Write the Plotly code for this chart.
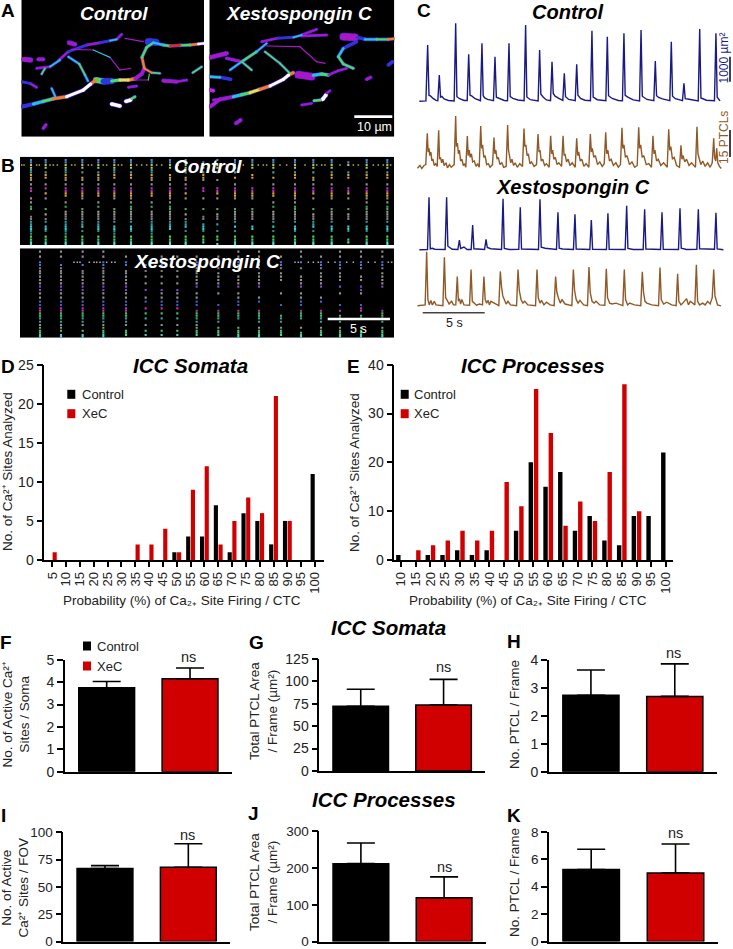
import plotly.graph_objects as go

W, H = 733, 949
BLACK, RED, NAVY, BROWN = "#000000", "#d00000", "#1a1a85", "#8f5a28"
FONT = "Liberation Sans"

# ---------- panels D, E ----------
D_CATS = ["5","10","15","20","25","30","35","40","45","50","55","60","65","70","75","80","85","90","95","100"]
D_CONTROL = [0,0,0,0,0,0,0,0,0,1,3,3,7,1,6,5,2,5,0,11]
D_XEC = [1,0,0,0,0,0,2,2,4,1,9,12,2,5,8,6,21,5,0,0]
E_CATS = ["10","15","20","25","30","35","40","45","50","55","60","65","70","75","80","85","90","95","100"]
E_CONTROL = [1,0,1,1,2,1,2,0,6,20,15,18,6,9,4,3,9,9,22]
E_XEC = [0,2,3,4,6,4,6,16,11,35,26,7,12,8,18,36,10,0,0]

# ---------- panels F-K: mean, upper error bound ----------
GROUPS = ["Control", "XeC"]
F_MEAN, F_TOP = [3.75, 4.15], [4.03, 4.63]
G_MEAN, G_TOP = [72, 73.5], [91, 102]
H_MEAN, H_TOP = [2.73, 2.69], [3.63, 3.85]
I_MEAN, I_TOP = [66.8, 68], [69.5, 89.5]
J_MEAN, J_TOP = [212, 119], [268, 176]
K_MEAN, K_TOP = [5.26, 5.0], [6.74, 7.12]

# ---------- panel C traces: (seconds, value) ----------
C_BLUE_CTRL = [(0.35,20),(0.88,30),(1.02,2267),(1.13,250),(1.25,230),(1.45,130),(1.7,50),(1.84,40),(1.96,1067),(2.06,180),(2.17,210),(2.35,110),(2.7,50),(3.16,30),(3.28,3133),(3.38,200),(3.6,120),(3.95,50),(4.21,50),
 (4.33,1893),(4.44,260),(4.6,220),(4.85,120),(5.1,60),(5.28,40),(5.40,2333),(5.5,240),(5.62,150),(5.85,90),(6.33,40),(6.45,1800),(6.56,180),(6.8,130),(7.2,50),(7.46,40),(7.58,2333),(7.68,200),(7.9,130),(8.3,70),(8.8,40),
 (8.92,3067),(9.02,190),(9.3,80),(9.93,30),(10.05,2067),(10.15,300),(10.35,180),(10.6,70),(10.93,40),(11.05,1600),(11.15,330),(11.3,220),(11.6,130),(11.92,50),(12.04,1133),(12.14,200),(12.4,90),(12.92,40),(13.04,1493),(13.14,260),(13.35,130),(13.7,60),(14.15,40),
 (14.27,2840),(14.37,180),(14.7,80),(15.39,40),(15.51,2600),(15.61,240),(15.9,130),(16.4,50),(16.73,40),(16.85,2733),(16.95,250),(17.2,170),(17.6,70),(18.11,30),(18.23,2867),(18.33,220),(18.7,90),(19.26,40),(19.38,1627),(19.48,240),(19.65,170),(19.95,110),(20.55,40),
 (20.67,2400),(20.77,220),(21.0,120),(21.57,40),(21.69,733),(21.79,120),(22.1,100),(22.4,60),(22.84,30),(22.96,2907),(23.06,150),(23.5,60),(24.15,40),(24.27,2733),(24.37,180),(24.6,30)]
C_BROWN_CTRL = [(0.2,1),(0.4,2.5),(0.55,0.8),(0.72,2.5),(0.87,3),(0.99,20.4),(1.06,10),(1.13,12),(1.2,8),(1.28,10),(1.36,5),(1.45,6),(1.55,2.5),(1.67,3.5),(1.79,2),(1.91,22),(1.98,6),(2.06,7),(2.15,4),(2.24,6),(2.35,2.5),(2.5,4),(2.62,1.2),(2.78,3),(2.92,1.5),(3.16,3),
 (3.28,30),(3.34,13),(3.42,15),(3.5,9),(3.58,11),(3.68,5),(3.78,6),(3.9,2.5),(4.0,3.5),(4.1,1.5),(4.22,18.9),(4.29,8),(4.37,11),(4.45,7),(4.55,9),(4.65,4.5),(4.78,5),(4.92,2),(5.05,3.5),(5.18,1.5),(5.30,24.4),(5.37,12),(5.45,14),(5.55,7),(5.65,8),(5.78,3),(5.92,3.5),(6.05,1.5),(6.25,3),
 (6.37,18),(6.44,9),(6.52,11),(6.62,6),(6.72,7),(6.85,3),(7.0,4),(7.15,1.5),(7.35,2),(7.47,25),(7.54,11),(7.62,8),(7.72,4),(7.82,6),(7.95,2.5),(8.08,4),(8.25,1.5),(8.45,3.5),(8.67,2),(8.79,23),(8.86,13),(8.94,14),(9.04,8),(9.14,9),(9.27,3.5),(9.4,4.5),(9.6,2),(9.8,3),
 (9.92,20),(10.0,10),(10.08,11),(10.18,5),(10.3,6),(10.45,2.5),(10.6,3.5),(10.82,1.5),(10.94,19),(11.02,9),(11.1,11),(11.2,6),(11.32,7),(11.46,3),(11.6,4),(11.82,2),(11.94,19),(12.02,8),(12.1,9),(12.22,4.5),(12.35,6),(12.5,2.5),(12.68,4),(12.92,1.5),
 (13.04,17.6),(13.12,8),(13.2,10),(13.32,5),(13.45,6),(13.62,2),(13.8,3.5),(14.02,1.5),(14.14,20),(14.22,10),(14.3,12),(14.42,7),(14.55,8),(14.72,3),(14.9,4.5),(15.1,2),(15.26,3.5),(15.38,21),(15.46,9),(15.55,11),(15.68,5),(15.82,6),(16.0,2.5),(16.2,4),(16.4,1.5),(16.57,3),
 (16.69,23.5),(16.76,12),(16.85,14),(16.97,7),(17.1,8),(17.3,3),(17.5,4.5),(17.72,1.5),(17.92,2.5),(18.04,23.7),(18.11,12),(18.2,14),(18.32,7),(18.45,8),(18.65,3),(18.85,3.5),(19.07,1.5),(19.19,19),(19.27,9),(19.35,11),(19.48,5),(19.62,6),(19.82,2.5),(20.05,4),(20.34,1.5),
 (20.46,22.6),(20.54,11),(20.63,13),(20.76,6),(20.9,7),(21.1,2.5),(21.33,1.5),(21.45,13.7),(21.53,6),(21.62,8),(21.75,4.5),(21.9,6),(22.1,2.5),(22.3,4),(22.62,1.5),(22.74,24),(22.82,9),(22.92,6),(23.05,3),(23.2,5),(23.4,2),(23.6,4),(23.8,1.5),(23.97,4),
 (24.09,17.6),(24.16,7),(24.25,5),(24.33,12),(24.42,4),(24.55,2),(24.7,0.8)]
C_BLUE_XEC = [(0.35,10),(1.01,20),(1.13,2107),(1.23,50),(1.4,70),(1.6,30),(2.43,20),(2.55,2107),(2.65,150),(2.8,110),(3.0,30),(3.46,20),(3.58,400),(3.68,60),(3.95,120),(4.2,20),(4.53,20),(4.65,1000),(4.75,50),(5.61,20),
 (5.73,427),(5.83,100),(6.1,50),(6.98,20),(7.10,2053),(7.2,60),(7.6,20),(8.37,30),(8.49,1707),(8.59,40),(9.96,20),(10.08,2027),(10.18,110),(10.5,70),(11.41,20),(11.53,1507),(11.63,70),(11.9,40),(12.78,20),(12.90,1427),(13.0,40),
 (14.1,20),(14.22,1200),(14.32,30),(15.44,20),(15.56,1467),(15.66,30),(16.95,20),(17.07,1773),(17.17,60),(17.6,20),(18.4,20),(18.52,1627),(18.62,40),(19.8,20),(19.92,1507),(20.02,30),(21.25,20),(21.37,1667),(21.47,70),(21.9,20),
 (22.73,30),(22.85,1627),(22.95,50),(24.15,30),(24.27,1493),(24.37,40),(24.87,10)]
C_BROWN_XEC = [(0.2,0.5),(0.82,1),(0.94,30.5),(1.04,4),(1.15,1),(1.28,3.5),(1.4,1),(1.55,3),(1.7,1),(2.25,0.5),(2.37,27.4),(2.47,5),(2.6,3.5),(2.75,1.5),(2.95,3),(3.1,1),(3.29,1),(3.41,16.7),(3.5,3),(3.58,4.5),(3.68,1.5),(3.78,4),(3.95,1),(4.4,0.8),(4.52,20.7),(4.62,3),(4.78,2),(4.95,0.8),(5.2,1.5),
 (5.44,1),(5.56,16.7),(5.66,4),(5.78,2),(5.9,3.5),(6.0,1),(6.12,3),(6.76,0.6),(6.88,19.6),(6.98,11),(7.08,6),(7.2,4),(7.35,1.5),(7.5,3),(7.7,1),(8.19,0.6),(8.31,20.7),(8.41,9),(8.55,4),(8.7,2),(8.85,3),(9.1,1),(9.72,0.6),(9.84,20.7),(9.94,5),(10.08,2),(10.2,3.5),(10.4,1),(10.6,2.5),(10.9,1),(11.22,0.6),(11.34,16.7),(11.44,8),(11.58,4.5),(11.72,2),(11.85,4),(12.1,1.5),
 (12.65,0.6),(12.77,20.7),(12.87,9),(13.0,4),(13.15,2),(13.3,3.5),(13.6,1),(13.91,0.6),(14.03,22),(14.13,8),(14.28,3),(14.45,2),(14.6,3),(14.9,1),(15.31,0.8),(15.43,21),(15.53,5),(15.7,2),(15.9,1.5),(16.2,2),(16.76,0.6),(16.88,20.7),(16.98,4),(17.15,1),(17.3,2),(17.7,1),(18.21,0.6),(18.33,19.4),(18.43,8),(18.55,3),(18.7,2),(19.1,1),(19.64,0.6),
 (19.76,21.8),(19.86,4),(20.05,1.5),(20.3,2.5),(20.7,1),(21.06,0.6),(21.18,18.3),(21.28,3),(21.45,1),(21.6,2),(21.9,4.5),(22.05,1),(22.2,3),(22.57,1),(22.69,23.3),(22.79,3),(22.95,1),(23.2,2),(23.4,1),(23.6,3),(23.8,1.5),(23.97,5),(24.09,20.7),(24.19,6),(24.4,1),(24.68,0.5)]

# ---------- panel A: pathways as (width, [(x, y, colour code), ...]) in image pixels ----------
PAL = {"P":"#a818c8","M":"#d020d8","B":"#2838e0","C":"#20c4dc","G":"#40e060","Y":"#e8e040","O":"#f08020","R":"#e03010","W":"#ffffff"}
A_CTRL = [
 (5,[(65,320,"B"),(100,312,"C"),(130,304,"G"),(160,296,"O"),(200,290,"W"),(250,270,"W"),(272,252,"O"),(288,240,"G")]),
 (9,[(288,240,"G"),(310,244,"B"),(335,243,"B")]),
 (5,[(335,243,"G"),(360,240,"Y"),(385,240,"O"),(405,236,"P"),(425,222,"P"),(433,205,"O")]),
 (4,[(433,205,"O"),(426,172,"G"),(440,142,"G"),(460,128,"C"),(490,135,"G"),(510,138,"R"),(540,136,"G"),(570,135,"O"),(595,132,"W"),(612,130,"O")]),
 (10,[(445,125,"B"),(468,127,"P")]),
 (3,[(175,182,"P"),(205,155,"B"),(260,135,"P"),(300,128,"B"),(330,122,"C"),(350,118,"P"),(365,103,"B")]),
 (2,[(375,115,"P"),(430,125,"C")]),
 (3,[(205,170,"C"),(238,192,"G"),(255,225,"C"),(264,243,"G")]),
 (2,[(215,148,"P"),(280,150,"C"),(330,172,"P"),(360,210,"P"),(392,205,"G")]),
 (7,[(72,178,"P"),(92,180,"P")]),(5,[(115,178,"P"),(130,178,"P")]),
 (3,[(110,205,"P"),(150,200,"C"),(180,180,"P")]),(3,[(125,222,"G"),(135,205,"C")]),
 (3,[(65,245,"B"),(90,250,"P"),(110,262,"C")]),(3,[(155,265,"C"),(166,290,"C")]),
 (3,[(433,205,"O"),(455,218,"G"),(480,220,"Y")]),(2,[(408,240,"P"),(445,240,"G"),(448,222,"Y")]),
 (5,[(490,242,"P"),(530,245,"P")]),(3,[(560,240,"P"),(530,245,"P")]),(3,[(578,218,"G"),(605,200,"G")]),
 (6,[(335,312,"W"),(360,318,"W")]),(6,[(378,304,"W"),(392,300,"W")]),(4,[(395,296,"G"),(405,290,"G")]),
 (4,[(130,385,"P"),(138,374,"P")]),(6,[(207,128,"P"),(225,133,"P")]),(3,[(385,262,"P"),(410,258,"P")])]
A_XEC = [
 (5,[(630,320,"P"),(660,298,"P"),(700,290,"C"),(725,284,"G"),(750,278,"Y"),(780,268,"O"),(810,258,"W"),(850,238,"W"),(866,225,"O"),(880,218,"G")]),
 (11,[(895,224,"P"),(935,230,"B")]),
 (5,[(940,226,"C"),(965,222,"G"),(985,225,"C")]),
 (3,[(985,225,"P"),(1015,212,"P"),(1040,205,"C")]),
 (3,[(785,125,"P"),(830,115,"B"),(880,112,"C"),(905,105,"P"),(950,88,"B")]),
 (3,[(905,108,"P"),(980,105,"P")]),
 (11,[(1030,110,"P"),(1065,112,"P")]),
 (4,[(1070,112,"B"),(1095,118,"C"),(1130,118,"G"),(1165,118,"O"),(1183,116,"G")]),
 (4,[(1070,125,"B"),(1030,145,"C"),(1015,170,"G"),(1030,192,"G"),(1060,205,"C")]),
 (3,[(770,155,"C"),(800,130,"C")]),(3,[(795,155,"G"),(840,190,"G"),(870,220,"C")]),
 (2,[(800,138,"P"),(900,140,"P"),(950,185,"P"),(975,190,"B")]),
 (6,[(632,172,"P"),(680,160,"P")]),(4,[(680,175,"P"),(725,185,"G"),(770,155,"P")]),
 (3,[(690,210,"C"),(725,185,"G"),(755,210,"G")]),(4,[(630,230,"C"),(660,232,"B"),(692,238,"C")]),
 (6,[(968,298,"W"),(978,285,"W")]),(4,[(942,302,"G"),(962,300,"C")]),(3,[(980,280,"P"),(990,272,"B")]),
 (5,[(708,370,"P"),(722,360,"P")]),(4,[(1100,238,"P"),(1112,232,"P")]),(4,[(1165,195,"B"),(1178,185,"C")]),(5,[(630,270,"M"),(640,272,"P")]),
 (3,[(905,315,"P"),(935,310,"P")]),(3,[(640,300,"P"),(680,296,"C")])]

# ---------- panel B: site raster, one mask string per burst (row order as in the row lists) ----------
B1_ROWS = [45,60,75,90,105,130,145,160,185,200,215,230,245,258,275,292]
B1_ROWS_2 = [52,68,82,98,118,138,152,172,192,208,222,238,252,266,284,297]
B1_COLORS = ["#4a8fd0","#b8c850","#3aa0a0","#e0a030","#909090","#c030c0","#e8a030","#909090","#40b060","#a0a0a0","#808080","#30a0a0","#30d0d0","#309090","#50d050","#40e0d0"]
B1_X = [93,137,197,247,295,343,393,455,510,557,610,652,705,757,820,885,940,995,1045,1100,1162]
B1_MASK = ["1111110110111111","1101011100011111","1111111011111111","1100111101111111","1101111011111111","1111011101111111","1101011111111111","1111111011111111","1101111111111011","1100111100011111","0101110100101111",
 "1100111100100110","1100011101111111","1101011101101011","1100011011111111","1101011111111111","1100111100111111","1101011101111111","0101011100101101","1101011111111111","1101011111111111"]
B1_DOTS = [65,72,110,118,150,160,172,215,225,265,275,310,320,355,365,410,425,440,470,485,535,590,625,680,730,775,790,800,840,860,915,950,965,975,1020,1060,1075,1120,1135,1150,1172]
B2_ROWS = [320,352,370,385,405,425,445,470,490,505,520,540,557,570]
B2_ROWS_2 = [335,360,378,395,415,435,458,480,497,512,530,548,563,575]
B2_COLORS = ["#909090","#5070e0","#808080","#909090","#909090","#8040d0","#909090","#4060c0","#c030b0","#40c060","#30a0a0","#909090","#50d050","#40d0d0"]
B2_X = [120,183,248,310,378,437,485,532,590,655,715,777,843,903,963,1020,1083,1147]
B2_MASK = ["11111111111111","10111111111111","10011111111111","11111111111111","01011111111111","00000001111111","00000011111111","00000011111111",
 "01111111011111","01111110011011","11101111011011","11111101011011","01111010001011","11101111011001","01111101011011","11111110001011","11101110101011","11111100011011"]
B2_DOTS = [222,232,240,268,282,290,300,320,335,345,885,895,925,940,955,985,1005,1040,1060,1105,1125,1165,1175]

# ---------- helpers ----------
def dx(a, b): return [a / W, b / W]
def dy(top, bottom): return [1 - bottom / H, 1 - top / H]

fig = go.Figure()
layout_axes = {}
n_axes = 0
def new_axes(px, py, xr, yr, xopt=None, yopt=None):
    global n_axes
    n_axes += 1
    s = "" if n_axes == 1 else str(n_axes)
    hidden = dict(visible=False, showgrid=False, zeroline=False, fixedrange=True, automargin=False)
    xa = dict(hidden); ya = dict(hidden)
    xa.update(domain=dx(*px), range=xr, anchor="y" + s)
    ya.update(domain=dy(*py), range=yr, anchor="x" + s)
    if xopt: xa.update(xopt)
    if yopt: ya.update(yopt)
    layout_axes["xaxis" + s] = xa
    layout_axes["yaxis" + s] = ya
    return "x" + s, "y" + s

def line_axis(**kw):
    d = dict(visible=True, showline=True, linecolor=BLACK, linewidth=1.6, ticks="outside", tickcolor=BLACK, ticklabeloverflow="allow",
             tickwidth=1.5, ticklen=6, tickfont=dict(family=FONT, size=14, color="#222222"), showgrid=False, zeroline=False)
    d.update(kw)
    return d

def black_back(xa, ya, xr, yr):
    fig.add_trace(go.Scatter(x=[xr[0], xr[1], xr[1], xr[0], xr[0]], y=[yr[0], yr[0], yr[1], yr[1], yr[0]], mode="lines", fill="toself",
                             fillcolor="black", line=dict(width=0, color="black"), xaxis=xa, yaxis=ya, showlegend=False, hoverinfo="skip"))

def stroke(x, y, xa, ya, color, w):
    fig.add_trace(go.Scatter(x=x, y=y, mode="lines+markers", xaxis=xa, yaxis=ya, showlegend=False, hoverinfo="skip", cliponaxis=True,
                             line=dict(color=color, width=w), marker=dict(color=color, size=w, line=dict(width=0))))

def image_panel(paths, px, py, xr, yr):
    xa, ya = new_axes(px, py, xr, yr)
    black_back(xa, ya, xr, yr)
    groups = {}
    for w, pts in paths:
        for a, b in zip(pts[:-1], pts[1:]):
            g = groups.setdefault((w, a[2]), ([], []))
            g[0].extend([a[0], b[0], None]); g[1].extend([a[1], b[1], None])
    for w in sorted({p[0] for p in paths}, reverse=True):
        under_x, under_y = [], []
        for (kw, c), g in groups.items():
            if kw == w:
                under_x += g[0]; under_y += g[1]
        if w >= 3:
            stroke(under_x, under_y, xa, ya, "#5020d0", (w + 2) * 0.6)
    for (w, c), g in sorted(groups.items(), key=lambda kv: -kv[0][0]):
        stroke(g[0], g[1], xa, ya, PAL[c], w * 0.6)

def raster_panel(rows, rows2, colors, xs, masks, dots, dot_y, dot_color, px, py, xr, yr):
    xa, ya = new_axes(px, py, xr, yr)
    black_back(xa, ya, xr, yr)
    n = len(rows)
    for i in range(n):
        for r, idx in ((rows[i], i), (rows2[i], n - 1 - i)):
            gx = [x for x, m in zip(xs, masks) if m[idx] == "1"]
            fig.add_trace(go.Scatter(x=gx, y=[r] * len(gx), mode="markers", xaxis=xa, yaxis=ya, showlegend=False, hoverinfo="skip",
                                     marker=dict(symbol="square", size=2.1, color=colors[i], line=dict(width=0))))
    fig.add_trace(go.Scatter(x=dots, y=[dot_y] * len(dots), mode="markers", xaxis=xa, yaxis=ya, showlegend=False, hoverinfo="skip",
                             marker=dict(symbol="square", size=1.5, color=dot_color, line=dict(width=0))))

def trace_panel(pairs, color, py, yr):
    xa, ya = new_axes((415, 725), py, [0, 25], yr)
    fig.add_trace(go.Scatter(x=[p[0] for p in pairs], y=[p[1] for p in pairs], mode="lines", xaxis=xa, yaxis=ya,
                             showlegend=False, hoverinfo="skip", line=dict(color=color, width=1.4)))

def hist_panel(cats, ctrl, xec, px, py, xr, ymax, tick, offs):
    xa, ya = new_axes(px, py, xr, [0, ymax],
                      xopt=line_axis(type="category", categoryorder="array", categoryarray=cats, tickmode="array", tickvals=cats, ticktext=cats,
                                     tickangle=-90, ticklen=5, tickfont=dict(family=FONT, size=13, color="#222222")),
                      yopt=line_axis(tickvals=list(range(0, ymax + 1, tick))))
    for name, vals, col, o in (("Control", ctrl, BLACK, offs[0]), ("XeC", xec, RED, offs[1])):
        fig.add_trace(go.Bar(x=cats, y=vals, name=name, marker=dict(color=col, line=dict(width=0)), width=0.3, offset=o,
                             xaxis=xa, yaxis=ya, showlegend=False))

def bar_panel(means, tops, px, py, ymax, tick, tick_size=14):
    xa, ya = new_axes(px, py, [-0.5, 1.5], [0, ymax],
                      xopt=line_axis(type="category", categoryorder="array", categoryarray=GROUPS, ticks="", showticklabels=False),
                      yopt=line_axis(tickvals=[v * tick for v in range(int(ymax / tick) + 1)],
                                     tickfont=dict(family=FONT, size=tick_size, color="#222222")))
    fig.add_trace(go.Bar(x=GROUPS, y=means, width=0.67, marker=dict(color=[BLACK, RED], line=dict(color=BLACK, width=1.5)),
                         error_y=dict(type="data", symmetric=False, array=[t - m for t, m in zip(tops, means)], arrayminus=[0, 0],
                                      color=BLACK, thickness=1.6, width=14),
                         xaxis=xa, yaxis=ya, showlegend=False))

# ---------- build ----------
image_panel(A_CTRL, (21.3, 204), (0, 136.7), [64, 612], [410, 0])
image_panel(A_XEC, (209.3, 394.3), (0, 136.7), [628, 1183], [410, 0])
raster_panel(B1_ROWS, B1_ROWS_2, B1_COLORS, B1_X, B1_MASK, B1_DOTS, 60, "#a8b850", (20, 394), (156.7, 245), [60, 1182], [300, 35])
raster_panel(B2_ROWS, B2_ROWS_2, B2_COLORS, B2_X, B2_MASK, B2_DOTS, 352, "#b0b0b0", (20, 394), (248.3, 337.7), [60, 1182], [578, 310])
trace_panel(C_BLUE_CTRL, NAVY, (20, 105), [-132, 3268])
trace_panel(C_BROWN_CTRL, BROWN, (110, 175), [-2.78, 33.3])
trace_panel(C_BLUE_XEC, NAVY, (190, 254), [-160, 2400])
trace_panel(C_BROWN_XEC, BROWN, (250, 310), [-1.83, 31.5])
hist_panel(D_CATS, D_CONTROL, D_XEC, (44.3, 324), (364.7, 560), [-0.58, 19.65], 25, 5, (-0.32, 0.02))
hist_panel(E_CATS, E_CONTROL, E_XEC, (394.3, 673.3), (364.7, 560), [-0.455, 18.5], 40, 10, (-0.33, 0.03))
bar_panel(F_MEAN, F_TOP, (65, 231.7), (659.7, 771.7), 5, 1)
bar_panel(G_MEAN, G_TOP, (319.3, 485), (658.7, 771), 125, 25)
bar_panel(H_MEAN, H_TOP, (549, 716.7), (659.7, 771.7), 4, 1)
bar_panel(I_MEAN, I_TOP, (63.3, 230), (832.3, 941.5), 100, 25, tick_size=13.5)
bar_panel(J_MEAN, J_TOP, (319.3, 485.7), (831.3, 941.5), 300, 100, tick_size=13.5)
bar_panel(K_MEAN, K_TOP, (549, 717.7), (832, 941.5), 8, 2, tick_size=13.5)

# ---------- text ----------
anns = []
def text(s, x, y, size=13, color="#222222", bold=False, italic=False, angle=0, xanchor="center"):
    if bold: s = "<b>" + s + "</b>"
    if italic: s = "<i>" + s + "</i>"
    anns.append(dict(text=s, x=x / W, y=1 - y / H, xref="paper", yref="paper", showarrow=False, xanchor=xanchor, yanchor="middle",
                     textangle=angle, font=dict(family=FONT, size=size, color=color), align="center", borderpad=0))

for lab, x, y in [("A",8,11),("B",8,165),("C",424,11),("D",8,367),("E",353,367),("F",6,642),("G",256,642),("H",514,641),("I",3,815),("J",253,813),("K",514,815)]:
    text(lab, x, y, size=19, color=BLACK, bold=True)
for s, x, y, sz, c in [("Control",114,13.5,19,"white"),("Xestospongin C",299,13.5,19,"white"),("Control",208,166.5,19,"white"),("Xestospongin C",207,261,19,"white"),
                       ("Control",567.7,12,20,BLACK),("Xestospongin C",573.3,186.7,20,BLACK)]:
    text(s, x, y, size=sz, color=c, bold=True, italic=True)
for s, x, y in [("ICC Somata",190.7,366),("ICC Processes",533.3,366),("ICC Somata",388,627),("ICC Processes",384,799)]:
    text(s, x, y, size=20.5, color=BLACK, bold=True, italic=True)
text("10 µm", 374.3, 126.7, size=12.5, color="white")
text("5 s", 358.3, 329, size=12.5, color="white")
text("5 s", 454, 322.7, size=12.5)
text("1000 µm²", 723.5, 58, size=12, color=NAVY, angle=-90)
text("15 PTCLs", 724, 138, size=12, color=BROWN, angle=-90)
PROB = "Probability (%) of Ca₂₊ Site Firing / CTC"
text(PROB, 182.3, 600, size=13.5); text(PROB, 527.7, 600, size=13.5)
text("No. of Ca²⁺ Sites Analyzed", 8, 472, size=13.5, angle=-90)
text("No. of Ca²⁺ Sites Analyzed", 354, 473, size=13.5, angle=-90)
text("No. of Active Ca²⁺<br>Sites / Soma", 15.5, 715, size=13.5, angle=-90)
text("Total PTCL Area<br>/ Frame (µm²)", 263, 711, size=13.5, angle=-90)
text("No. PTCL / Frame", 514, 715, size=13.5, angle=-90)
text("No. of Active<br>Ca²⁺ Sites / FOV", 14.5, 888, size=13.5, angle=-90)
text("Total PTCL Area<br>/ Frame (µm²)", 263, 882, size=13.5, angle=-90)
text("No. PTCL / Frame", 514, 883, size=13.5, angle=-90)
for x, y in [(188,657),(443.7,667.3),(673.3,653.3),(187.7,835.3),(444.3,866.7),(675.7,832.7)]:
    text("ns", x, y, size=14.5)

shapes = []
def rect(x0, y0, x1, y1, color):
    shapes.append(dict(type="rect", xref="paper", yref="paper", x0=x0 / W, x1=x1 / W, y0=1 - y0 / H, y1=1 - y1 / H,
                       fillcolor=color, line=dict(width=0), layer="above"))
for kx, tx, y1, y2 in [(71.3,80.7,394.3,413.7),(404.7,413.3,394.3,413.7),(87,96,646,666)]:
    for yy, c, s in [(y1, BLACK, "Control"), (y2, RED, "XeC")]:
        rect(kx - 4, yy - 4.5, kx + 4, yy + 4.5, c)
        text(s, tx, yy, size=13, xanchor="left")
rect(354.3, 115.3, 392.3, 118, "white")     # 10 µm
rect(327.7, 317.7, 390, 320.3, "white")     # 5 s image
rect(422.7, 312, 484.7, 313.4, "#444444")   # 5 s trace
rect(729.2, 56.7, 730.8, 81.7, "#111133")   # 1000 µm²
rect(729.2, 130, 730.8, 157, "#111111")     # 15 PTCLs

fig.update_layout(width=W, height=H, margin=dict(l=0, r=0, t=0, b=0, pad=0, autoexpand=False), paper_bgcolor="white", plot_bgcolor="rgba(0,0,0,0)",
                  barmode="overlay", autosize=False, annotations=anns, shapes=shapes, font=dict(family=FONT), **layout_axes)
fig.write_html("out.html", config=dict(displayModeBar=False, responsive=False),
               post_script="document.body.style.margin='0';document.body.style.overflow='hidden';")
